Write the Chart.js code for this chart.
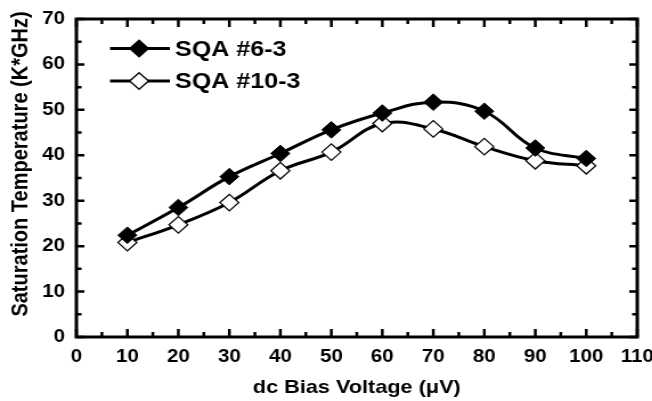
<!DOCTYPE html>
<html><head><meta charset="utf-8">
<script src="https://cdn.jsdelivr.net/npm/chart.js@4"></script>
<style>
html,body{margin:0;padding:0;background:#fff;overflow:hidden}
#wrap{width:572px;height:401px;transform:scaleX(1.14);transform-origin:0 0}
</style>
</head><body><div id="wrap"><canvas id="c" width="572" height="401"></canvas></div>
<script>
const biasVoltage = [10, 20, 30, 40, 50, 60, 70, 80, 90, 100];
const sqa63 = [22.4, 28.5, 35.3, 40.4, 45.6, 49.3, 51.7, 49.7, 41.6, 39.3];
const sqa103 = [20.8, 24.7, 29.6, 36.6, 40.7, 47.0, 45.8, 41.9, 38.8, 37.7];
const seriesNames = ["SQA #6-3", "SQA #10-3"];
const xTitle = "dc Bias Voltage (\u03bcV)";
const yTitle = "Saturation Temperature (K*GHz)";

const FONT = "'Liberation Sans', Arial, sans-serif";

const framePlugin = {
  id: 'frame',
  afterDraw(chart) {
    const {ctx, chartArea: a, scales: {x, y}} = chart;
    ctx.save();
    ctx.strokeStyle = '#000';
    ctx.lineCap = 'butt';
    ctx.lineWidth = 2.5;
    for (let v = 0; v <= 110; v += 5) {
      const px = x.getPixelForValue(v);
      const len = v % 10 === 0 ? 8 : 5;
      ctx.beginPath();
      ctx.moveTo(px, a.bottom); ctx.lineTo(px, a.bottom - len);
      ctx.moveTo(px, a.top); ctx.lineTo(px, a.top + len);
      ctx.stroke();
    }
    for (let v = 0; v <= 70; v += 5) {
      const py = y.getPixelForValue(v);
      const len = v % 10 === 0 ? 7 : 4.5;
      ctx.beginPath();
      ctx.moveTo(a.left, py); ctx.lineTo(a.left + len, py);
      ctx.moveTo(a.right, py); ctx.lineTo(a.right - len, py);
      ctx.stroke();
    }
    ctx.lineWidth = 3;
    ctx.strokeRect(a.left, a.top, a.right - a.left, a.bottom - a.top);
    // y axis title
    ctx.save();
    ctx.translate(18.5, 164);
    ctx.rotate(-Math.PI / 2);
    ctx.font = "bold 20px " + FONT;
    ctx.fillStyle = '#000';
    ctx.textAlign = 'center';
    ctx.textBaseline = 'middle';
    ctx.fillText(yTitle, 0, 0);
    ctx.restore();
    // legend
    const rows = [{y: 48.5, fill: '#000'}, {y: 81, fill: '#fff'}];
    ctx.font = "bold 22px " + FONT;
    ctx.textBaseline = 'middle';
    rows.forEach((r, i) => {
      ctx.lineWidth = 3;
      ctx.beginPath(); ctx.moveTo(96.5, r.y); ctx.lineTo(149, r.y); ctx.stroke();
      const cx = 122, s = 8.3;
      ctx.beginPath();
      ctx.moveTo(cx, r.y - s); ctx.lineTo(cx + s, r.y); ctx.lineTo(cx, r.y + s); ctx.lineTo(cx - s, r.y); ctx.closePath();
      ctx.fillStyle = r.fill; ctx.fill();
      ctx.lineWidth = 1.3; ctx.stroke();
      ctx.fillStyle = '#000';
      ctx.fillText(seriesNames[i], 153.5, r.y + 1);
    });
    ctx.restore();
  }
};

new Chart(document.getElementById('c'), {
  type: 'line',
  data: {
    datasets: [
      {label: seriesNames[0], data: biasVoltage.map((v, i) => ({x: v, y: sqa63[i]})),
       borderColor: '#000', borderWidth: 3, tension: 0.4, pointStyle: 'rectRot', pointRadius: 8.3,
       pointBackgroundColor: '#000', pointBorderColor: '#000', pointBorderWidth: 1},
      {label: seriesNames[1], data: biasVoltage.map((v, i) => ({x: v, y: sqa103[i]})),
       borderColor: '#000', borderWidth: 3, tension: 0.4, pointStyle: 'rectRot', pointRadius: 8.3,
       pointBackgroundColor: '#fff', pointBorderColor: '#000', pointBorderWidth: 1.2}
    ]
  },
  options: {
    responsive: false, animation: false, devicePixelRatio: 1,
    layout: {padding: {left: 0, right: 13, top: 19, bottom: 0}},
    plugins: {legend: {display: false}, tooltip: {enabled: false}},
    scales: {
      x: {type: 'linear', min: 0, max: 110,
        ticks: {stepSize: 10, color: '#000', font: {family: FONT, size: 18, weight: 'bold'}, padding: 9, maxRotation: 0},
        grid: {display: false, drawTicks: false}, border: {display: false},
        title: {display: true, text: xTitle, color: '#000', font: {family: FONT, size: 19, weight: 'bold'}, padding: {top: 0, bottom: 2}},
        afterFit(s) { s.height = 64; s.paddingLeft = 0; s.paddingRight = 0; }},
      y: {min: 0, max: 70,
        ticks: {stepSize: 10, color: '#000', font: {family: FONT, size: 18, weight: 'bold'}, padding: 10},
        grid: {display: false, drawTicks: false}, border: {display: false},
        title: {display: false, text: yTitle},
        afterFit(s) { s.width = 67; s.paddingTop = 0; s.paddingBottom = 0; }}
    }
  },
  plugins: [framePlugin]
});
</script></body></html>
